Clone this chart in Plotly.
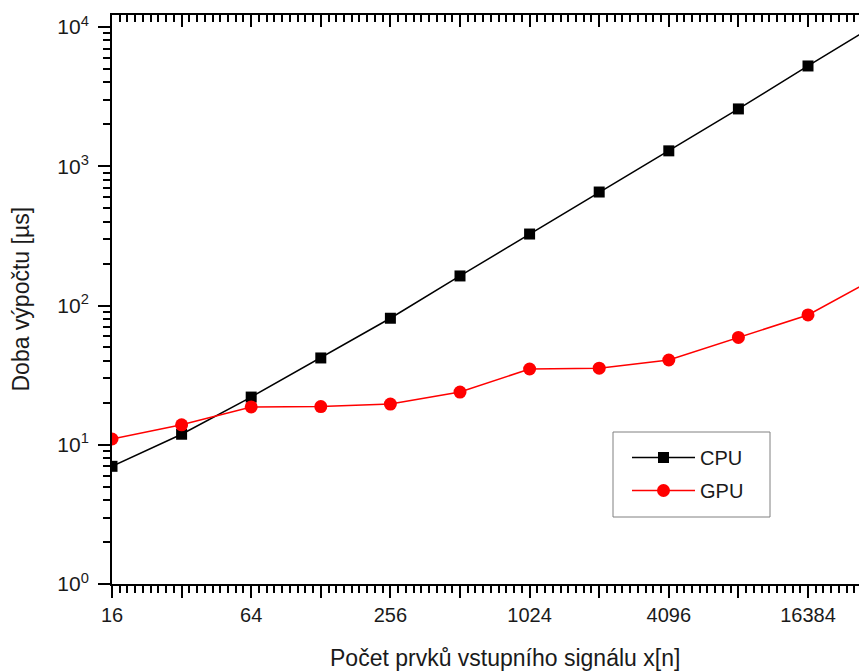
import numpy as np
import plotly.graph_objects as go

# Data
n_values = [16, 32, 64, 128, 256, 512, 1024, 2048, 4096, 8192, 16384, 32768]
cpu_us = [7.0, 11.9, 22, 42, 81, 163, 326, 653, 1290, 2580, 5250, 10600]
gpu_us = [11, 13.9, 18.7, 18.8, 19.6, 23.9, 35, 35.5, 40.6, 59, 85.5, 160]
x_tick_labels = ["16", "", "64", "", "256", "", "1024", "", "4096", "", "16384", ""]
y_tick_vals = [1, 10, 100, 1000, 10000]
y_tick_text = ["10<sup>0</sup>", "10<sup>1</sup>", "10<sup>2</sup>", "10<sup>3</sup>", "10<sup>4</sup>"]
series_names = ["CPU", "GPU"]

xlog = [float(np.log2(v)) for v in n_values]

FONT = "Liberation Sans, Arial, sans-serif"

fig = go.Figure()
fig.add_trace(go.Scatter(
    x=xlog, y=cpu_us, name=series_names[0], mode="lines+markers",
    legendgroup="a",
    line=dict(color="black", width=1.5),
    marker=dict(symbol="square", size=11, color="black"),
))
fig.add_trace(go.Scatter(
    x=xlog, y=gpu_us, name=series_names[1], mode="lines+markers",
    legendgroup="b",
    line=dict(color="#ff0000", width=1.5),
    marker=dict(symbol="circle", size=13, color="#ff0000"),
))
# invisible trace to hold top axis
fig.add_trace(go.Scatter(x=[xlog[0]], y=[cpu_us[0]], xaxis="x2", mode="markers",
                         marker=dict(opacity=0), showlegend=False, hoverinfo="skip"))

# page has an 8px body margin: plot area left at 104, top at 7 inside the figure
W, H = 859, 663
L, T, B = 104, 7, 87
plot_w = W - L
plot_h = H - T - B
xr = [4, 4 + plot_w / 69.6]
minor_y = [m * 10 ** d for d in range(0, 5) for m in range(2, 10)]


def px_x(p):
    return (p - L) / plot_w


def px_y(p):
    return (H - B - p) / plot_h


fig.update_layout(
    width=W, height=H,
    margin=dict(l=L, r=0, t=T, b=B, pad=0),
    paper_bgcolor="white", plot_bgcolor="white",
    font=dict(family=FONT, size=20, color="#1a1a1a"),
    showlegend=True,
    legend=dict(
        x=px_x(619), y=px_y(430), xanchor="left", yanchor="top",
        borderwidth=0, bgcolor="rgba(0,0,0,0)",
        traceorder="grouped", tracegroupgap=4, itemwidth=63,
        font=dict(family=FONT, size=20, color="#1a1a1a"),
    ),
    shapes=[
        dict(type="rect", xref="paper", yref="paper",
             x0=px_x(605), x1=px_x(762), y0=px_y(509), y1=px_y(424),
             line=dict(color="#808080", width=1), fillcolor="white", layer="below"),
    ],
    xaxis=dict(
        range=xr, showgrid=False, zeroline=False,
        showline=True, linecolor="black", linewidth=2,
        tickmode="array", tickvals=xlog, ticktext=x_tick_labels,
        ticks="outside", ticklen=12, tickwidth=2, tickcolor="black",
        minor=dict(tickmode="linear", tick0=4, dtick=1 / 9, ticks="outside",
                   ticklen=7, tickwidth=1.5, tickcolor="black", showgrid=False),
        tickfont=dict(family=FONT, size=20, color="#1a1a1a"),
    ),
    xaxis2=dict(
        range=xr, overlaying="x", side="top", showgrid=False, zeroline=False,
        showline=True, linecolor="black", linewidth=2,
        tickmode="array", tickvals=xlog, showticklabels=False,
        ticks="inside", ticklen=12, tickwidth=2, tickcolor="black",
        minor=dict(tickmode="linear", tick0=4, dtick=1 / 9, ticks="inside",
                   ticklen=7, tickwidth=1.5, tickcolor="black", showgrid=False),
    ),
    yaxis=dict(
        type="log", range=[0, 4 + 12 / 139.25], showgrid=False, zeroline=False,
        showline=True, linecolor="black", linewidth=2,
        tickmode="array", tickvals=y_tick_vals, ticktext=y_tick_text,
        ticks="outside", ticklen=12, tickwidth=2, tickcolor="black",
        ticklabelstandoff=5,
        minor=dict(tickmode="array", tickvals=minor_y, ticks="outside",
                   ticklen=7, tickwidth=1.5, tickcolor="black", showgrid=False),
        tickfont=dict(family=FONT, size=21, color="#1a1a1a"),
    ),
    annotations=[
        dict(text="Počet prvků vstupního signálu x[n]", xref="paper", yref="paper",
             x=px_x(497), y=0, yshift=-74, xanchor="center", yanchor="middle",
             showarrow=False, font=dict(family=FONT, size=23, color="#1a1a1a")),
        dict(text="Doba výpočtu [µs]", xref="paper", yref="paper",
             x=0, xshift=-92, y=0.5, xanchor="center", yanchor="middle", textangle=-90,
             showarrow=False, font=dict(family=FONT, size=23, color="#1a1a1a")),
    ],
)

fig.write_html("out.html")
